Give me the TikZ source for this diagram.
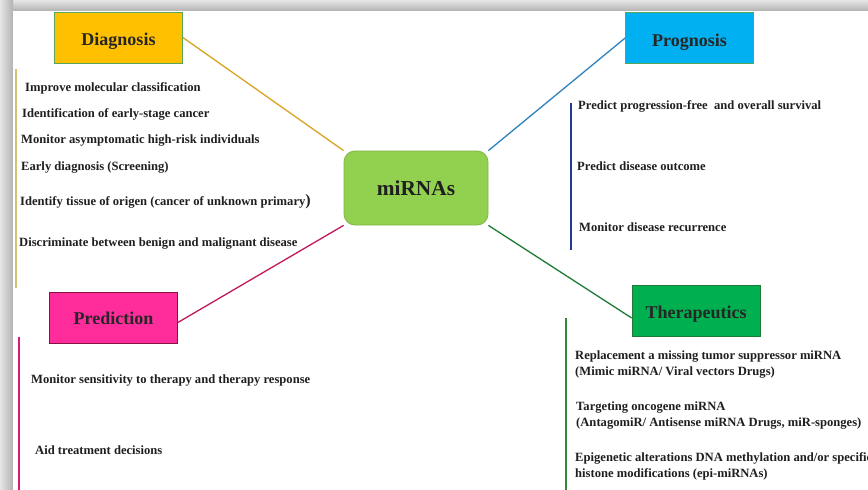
\documentclass[tikz,border=0pt]{standalone}
\usepackage{fontspec}
\setmainfont{Liberation Serif}
\usetikzlibrary{backgrounds}
\definecolor{diagfill}{HTML}{FFC000}
\definecolor{diagline}{HTML}{D9A521}
\definecolor{diagbar}{HTML}{D2C274}
\definecolor{progfill}{HTML}{00B0F0}
\definecolor{progline}{HTML}{2C83BE}
\definecolor{progbar}{HTML}{1F3A8F}
\definecolor{mirfill}{HTML}{92D050}
\definecolor{mirdraw}{HTML}{7DB544}
\definecolor{predfill}{HTML}{FF2C9C}
\definecolor{predline}{HTML}{C2185B}
\definecolor{predbar}{HTML}{D81B7A}
\definecolor{therfill}{HTML}{00B050}
\definecolor{therline}{HTML}{1E7B34}
\definecolor{therbar}{HTML}{2E8B3E}
\begin{document}
\begin{tikzpicture}[x=1pt,y=-1pt,
  hb/.style={draw=#1, line width=0.7pt, minimum width=128pt, minimum height=51pt,
    inner sep=0pt, text depth=0pt, text height=15pt,
    font=\fontsize{18}{21}\selectfont\bfseries, text=black!85},
  it/.style={anchor=west, font=\fontsize{12.6}{16}\selectfont\bfseries, inner sep=0pt,
    text=black!88, align=left},
  conn/.style={line width=1.3pt},
  bar/.style={line width=1.1pt}]
\clip (0,0) rectangle (868,490);
\begin{pgfonlayer}{background}
\shade[top color=gray!20, bottom color=gray!60] (0,0) rectangle (868,11);
\shade[left color=gray!20, right color=gray!60] (0,0) rectangle (13,490);
\fill[white] (13,11) rectangle (868,490);
\end{pgfonlayer}

% boxes
\node[hb=green!30!gray, fill=diagfill, text height=16pt] (diag) at (118.5,37.5) {Diagnosis};
\node[hb=green!30!gray, fill=progfill, text height=16pt] (prog) at (689.5,38) {Prognosis};
\node[hb=predline!70!black, fill=predfill, text height=14.5pt] (pred) at (113.5,317.5) {Prediction};
\node[hb=therline, fill=therfill, text height=14.5pt] (ther) at (696,311) {Therapeutics};
\node[draw=mirdraw, line width=0.8pt, fill=mirfill, rounded corners=11pt,
  minimum width=144pt, minimum height=74pt, inner sep=0pt,
  font=\fontsize{21.3}{24}\selectfont\bfseries, text=black!88] (mir) at (416,188) {miRNAs};

% connectors
\begin{pgfonlayer}{background}
\draw[conn, diagline] (diag.east) -- (mir.north west);
\draw[conn, progline] (prog.west) -- (mir.north east);
\draw[conn, predline] ([yshift=-5pt]pred.east) -- (mir.south west);
\draw[conn, therline] ([yshift=-7pt]ther.west) -- (mir.south east);
\end{pgfonlayer}

% bars
\coordinate (db1) at (16,69); \coordinate (db2) at (16,288);
\coordinate (pb1) at (571,103); \coordinate (pb2) at (571,250);
\coordinate (rb1) at (19,337); \coordinate (rb2) at (19,492);
\coordinate (tb1) at (566,318); \coordinate (tb2) at (566,492);
\draw[bar, diagbar] (db1) -- (db2);
\draw[bar, progbar] (pb1) -- (pb2);
\draw[bar, predbar] (rb1) -- (rb2);
\draw[bar, therbar] (tb1) -- (tb2);

% diagnosis items
\node[it] (d1) at (25,88) {Improve molecular classification};
\node[it] (d2) at (22,114) {Identification of early-stage cancer};
\node[it] (d3) at (21,141) {Monitor asymptomatic high-risk individuals};
\node[it] (d4) at (21,168) {Early diagnosis (Screening)};
\node[it] (d5) at (20,202) {Identify tissue of origen (cancer of unknown primary{\fontsize{16}{16}\selectfont)}};
\node[it] (d6) at (19,244) {Discriminate between benign and malignant disease};

% prognosis items
\node[it] (p1) at (578,106) {Predict progression-free\ \ and overall survival};
\node[it] (p2) at (577,166) {Predict disease outcome};
\node[it] (p3) at (579,227) {Monitor disease recurrence};

% prediction items
\node[it] (r1) at (31,380) {Monitor sensitivity to therapy and therapy response};
\node[it] (r2) at (35,450) {Aid treatment decisions};

% therapeutics items
\node[it] (t1) at (575,365) {Replacement a missing tumor suppressor miRNA\\(Mimic miRNA/ Viral vectors Drugs)};
\node[it] (t2) at (576,416) {Targeting oncogene miRNA\\(AntagomiR/ Antisense miRNA Drugs, miR-sponges)};
\node[it] (t3) at (575,466) {Epigenetic alterations DNA methylation and/or specific\\histone modifications (epi-miRNAs)};
\end{tikzpicture}
\end{document}
